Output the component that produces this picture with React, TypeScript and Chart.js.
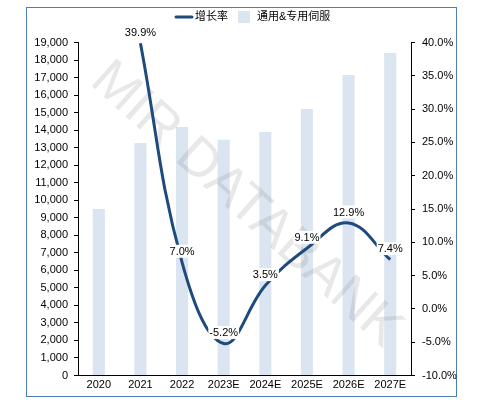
import React, { useEffect, useRef } from "react";
import { Chart, registerables } from "chart.js";

Chart.register(...registerables);

const categories = ["2020", "2021", "2022", "2023E", "2024E", "2025E", "2026E", "2027E"];
const servoValues = [9500, 13270, 14180, 13450, 13900, 15200, 17150, 18400];
const growthRates: (number | null)[] = [null, 39.9, 7.0, -5.2, 3.5, 9.1, 12.9, 7.4];
const growthLabel = "增长率";
const servoLabel = "通用&专用伺服";
const watermarkText = "MIR DATABANK";

const LINE_COLOR = "#1f4a7e";
const BAR_COLOR = "#dbe5f1";
const FONT = '"Liberation Sans", "Noto Sans CJK SC", sans-serif';

// Outer blue frame
const framePlugin = {
  id: "frame",
  beforeDraw(chart: any) {
    const ctx = chart.ctx;
    ctx.save();
    ctx.fillStyle = "#ffffff";
    ctx.fillRect(0, 0, chart.width, chart.height);
    ctx.strokeStyle = "#4a7ebb";
    ctx.lineWidth = 1;
    ctx.strokeRect(26.5, 7.5, 430, 389);
    ctx.restore();
  },
};

// Diagonal watermark, drawn over the bars but under the line
const watermarkPlugin = {
  id: "watermark",
  afterDatasetDraw(chart: any, args: any) {
    if (args.index !== 1) return;
    const ctx = chart.ctx;
    ctx.save();
    ctx.translate(246, 205);
    ctx.rotate((42 * Math.PI) / 180);
    ctx.font = `54px ${FONT}`;
    ctx.fillStyle = "rgba(110,110,110,0.16)";
    ctx.textAlign = "center";
    ctx.textBaseline = "middle";
    ctx.fillText(watermarkText, 0, 0);
    ctx.restore();
  },
};

// Value labels with white boxes above the growth line points
const valueLabelPlugin = {
  id: "valueLabels",
  afterDatasetsDraw(chart: any) {
    const ctx = chart.ctx;
    const meta = chart.getDatasetMeta(0);
    ctx.save();
    ctx.font = `11px ${FONT}`;
    ctx.textAlign = "center";
    ctx.textBaseline = "middle";
    meta.data.forEach((pt: any, i: number) => {
      const v = growthRates[i];
      if (v === null || v === undefined) return;
      const text = v.toFixed(1) + "%";
      const w = ctx.measureText(text).width + 2;
      const x = pt.x;
      const y = pt.y - 11;
      ctx.fillStyle = "#ffffff";
      ctx.fillRect(x - w / 2, y - 6.5, w, 13);
      ctx.fillStyle = "#000000";
      ctx.fillText(text, x, y + 0.5);
    });
    ctx.restore();
  },
};

// Legend row at the top
const legendPlugin = {
  id: "topLegend",
  afterDraw(chart: any) {
    const ctx = chart.ctx;
    const ds = chart.data.datasets;
    const y = 17;
    let x = 175;
    ctx.save();
    ctx.font = `11px ${FONT}`;
    ctx.textBaseline = "middle";
    ctx.textAlign = "left";
    // line item
    ctx.strokeStyle = ds[0].borderColor;
    ctx.lineWidth = 3;
    ctx.lineCap = "round";
    ctx.beginPath();
    ctx.moveTo(x + 1, y);
    ctx.lineTo(x + 17, y);
    ctx.stroke();
    x += 20;
    ctx.fillStyle = "#000000";
    ctx.fillText(ds[0].label, x, y);
    x += ctx.measureText(ds[0].label).width + 10;
    // bar item
    ctx.fillStyle = ds[1].backgroundColor;
    ctx.fillRect(x, y - 6, 12, 12);
    x += 19;
    ctx.fillStyle = "#000000";
    ctx.fillText(ds[1].label, x, y);
    ctx.restore();
  },
};

export default function App() {
  const canvasRef = useRef<HTMLCanvasElement | null>(null);

  useEffect(() => {
    if (!canvasRef.current) return;
    const chart = new Chart(canvasRef.current, {
      type: "bar",
      data: {
        labels: categories,
        datasets: [
          {
            type: "line",
            label: growthLabel,
            data: growthRates,
            yAxisID: "y1",
            borderColor: LINE_COLOR,
            backgroundColor: LINE_COLOR,
            borderWidth: 3,
            pointRadius: 0,
            tension: 0.4,
            fill: false,
            clip: false,
            order: 0,
          } as any,
          {
            type: "bar",
            label: servoLabel,
            data: servoValues,
            yAxisID: "y",
            backgroundColor: BAR_COLOR,
            barPercentage: 0.29,
            categoryPercentage: 1,
            order: 1,
          } as any,
        ],
      },
      options: {
        responsive: false,
        animation: false,
        layout: { padding: { top: 42.5, left: 0, right: 0, bottom: 0 } },
        plugins: {
          legend: { display: false },
          tooltip: { enabled: false },
        },
        scales: {
          x: {
            grid: { display: false, drawTicks: false },
            border: { display: true, color: "#000000", width: 1 },
            ticks: { color: "#000000", font: { family: FONT, size: 11 }, padding: 3, maxRotation: 0 },
            afterFit(scale: any) {
              scale.height = 29.5;
            },
          },
          y: {
            position: "left",
            min: 0,
            max: 19000,
            grid: { drawOnChartArea: false, drawTicks: true, tickLength: 4, color: "#000000" },
            border: { display: true, color: "#000000", width: 1 },
            ticks: {
              stepSize: 1000,
              color: "#000000",
              padding: 6,
              font: { family: FONT, size: 11 },
              callback: (v: any) => Number(v).toLocaleString("en-US"),
            },
            afterFit(scale: any) {
              scale.width = 78;
            },
          },
          y1: {
            position: "right",
            min: -10,
            max: 40,
            grid: { drawOnChartArea: false, drawTicks: true, tickLength: 4, color: "#000000" },
            border: { display: true, color: "#000000", width: 1 },
            ticks: {
              stepSize: 5,
              color: "#000000",
              padding: 7,
              font: { family: FONT, size: 11 },
              callback: (v: any) => Number(v).toFixed(1) + "%",
            },
            afterFit(scale: any) {
              scale.width = 69;
            },
          },
        },
      } as any,
      plugins: [framePlugin, watermarkPlugin, valueLabelPlugin, legendPlugin],
    });
    return () => chart.destroy();
  }, []);

  return (
    <div style={{ position: "fixed", left: 0, top: 0, width: 480, height: 405, background: "#fff" }}>
      <canvas ref={canvasRef} width={480} height={405} style={{ display: "block" }} />
    </div>
  );
}
